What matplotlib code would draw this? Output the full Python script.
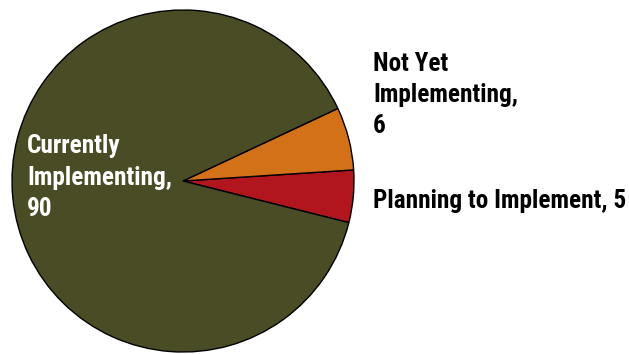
import matplotlib
matplotlib.use("Agg")
import matplotlib.pyplot as plt

# implementation status counts
categories = ["Planning to Implement", "Not Yet\nImplementing", "Currently\nImplementing"]
values = [5, 6, 90]
colors = ["#B1161F", "#D37119", "#4A4C26"]

plt.rcParams["font.family"] = ["Roboto Condensed", "DejaVu Sans"]

fig = plt.figure(figsize=(6.29, 3.54), dpi=100)
ax = fig.add_axes([12 / 629, 2 / 354, 342 / 629, 342 / 354])

start = -14.1
wedges, _ = ax.pie(values, colors=colors, startangle=start, counterclock=True,
                   radius=1.0, center=(0, 0),
                   wedgeprops=dict(edgecolor="black", linewidth=1.0))
ax.set_xlim(-1, 1)
ax.set_ylim(-1, 1)
ax.set_aspect("equal")
ax.axis("off")

lbl = dict(fontsize=18.2, fontweight="bold", fontstretch="condensed",
           clip_on=False, linespacing=1.38)
# Planning to Implement
ax.text(1.111, -0.115, f"{categories[0]}, {values[0]}", ha="left", va="center",
        color="black", **lbl)
# Not Yet Implementing
ax.text(1.111, 0.755, f"{categories[1]},\n{values[1]}", ha="left", va="top",
        color="black", **lbl)
# Currently Implementing
ax.text(-0.912, 0.02, f"{categories[2]},\n{values[2]}", ha="left", va="center",
        color="white", **lbl)

fig.savefig("out.png", dpi=100)
